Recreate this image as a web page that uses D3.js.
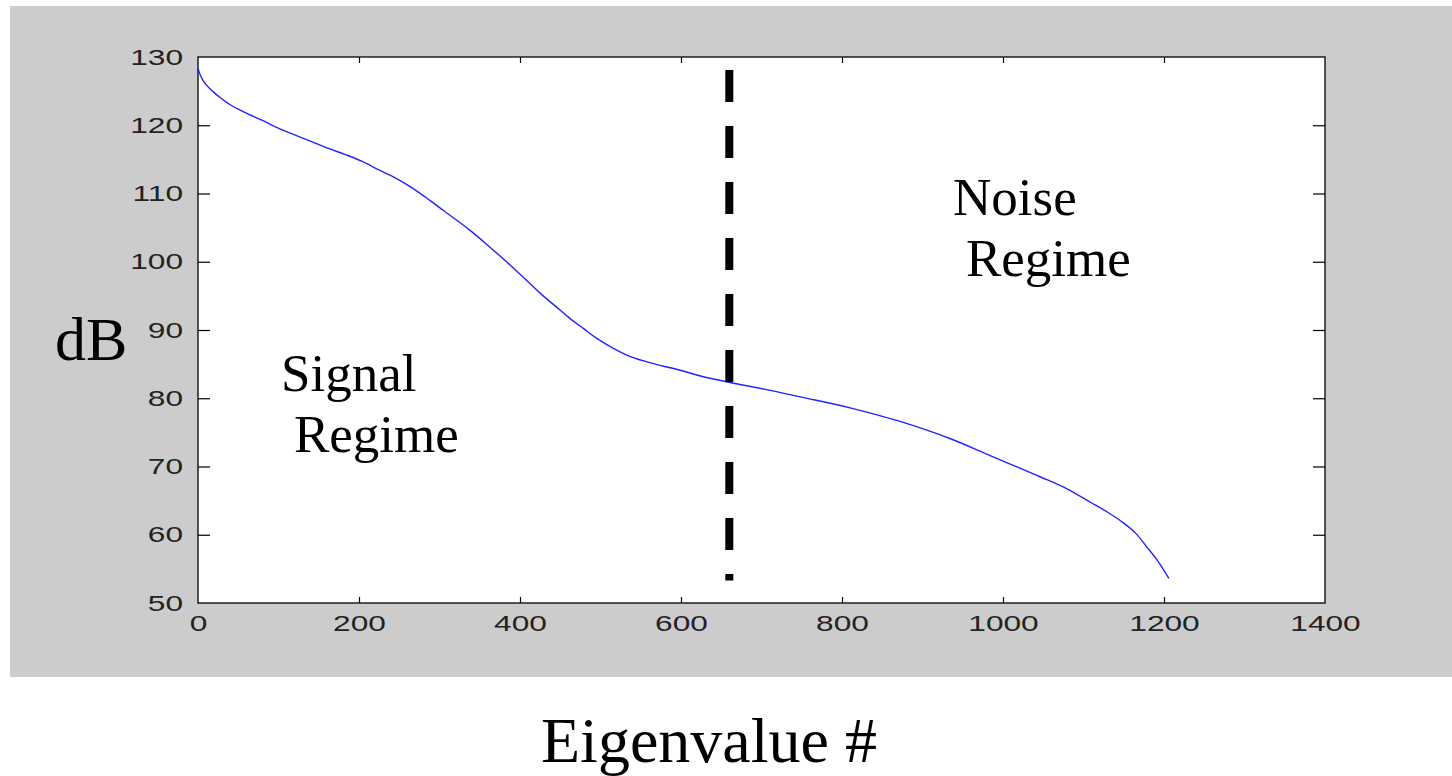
<!DOCTYPE html>
<html>
<head>
<meta charset="utf-8">
<script src="https://cdn.jsdelivr.net/npm/d3@7"></script>
<style>
  html, body { margin: 0; padding: 0; background: #ffffff; }
  svg { display: block; }
</style>
</head>
<body>
<svg id="chart" width="1452" height="776"></svg>
<script>
// Sorted eigenvalue spectrum (index vs. power in dB)
const eigIndex = [0, 3, 9, 18, 27, 40, 58, 80, 99, 120, 141, 162, 183, 204, 224, 245, 265, 288, 305,
  338, 363, 388, 407, 425, 444, 462, 479, 495, 516, 537, 568, 599, 623, 661, 705, 748, 810, 872,
  934, 984, 1046, 1080, 1108, 1130, 1150, 1165, 1178, 1192, 1206];
const eigDb = [128.4, 127.3, 126.1, 125.0, 124.1, 123.0, 121.9, 120.7, 119.6, 118.6, 117.6, 116.6,
  115.7, 114.7, 113.5, 112.3, 110.9, 109.0, 107.5, 104.6, 102.1, 99.5, 97.4, 95.4, 93.5, 91.7,
  90.2, 88.8, 87.3, 86.1, 85.0, 84.1, 83.3, 82.3, 81.3, 80.2, 78.6, 76.6, 74.1, 71.6, 68.5,
  66.7, 64.8, 63.3, 61.7, 60.2, 58.3, 56.2, 53.6];

// Boundary between signal and noise subspaces
const splitIndex = 660;
const splitSpan = [128.1, 53.3];

const xTicks = [0, 200, 400, 600, 800, 1000, 1200, 1400];
const yTicks = [50, 60, 70, 80, 90, 100, 110, 120, 130];

const svg = d3.select("#chart");

// figure background
svg.append("rect")
  .attr("x", 10).attr("y", 6)
  .attr("width", 1442).attr("height", 671)
  .attr("fill", "#cccccc");

const x = d3.scaleLinear().domain([0, 1400]).range([198, 1325]);
const y = d3.scaleLinear().domain([50, 130]).range([603, 57]);

// axes area
svg.append("rect")
  .attr("x", x(0)).attr("y", y(130))
  .attr("width", x(1400) - x(0)).attr("height", y(50) - y(130))
  .attr("fill", "#ffffff");

// tick labels are drawn wide, as in the original figure
const stretch = 1.44;
function styleAxis(g) {
  g.select(".domain").remove();
  g.selectAll(".tick line").attr("stroke", "#000").attr("stroke-width", 1.2);
  g.selectAll(".tick text")
    .attr("font-family", "'Liberation Sans', Arial, sans-serif")
    .attr("font-size", 22)
    .attr("fill", "#222");
}

// bottom axis with labels
const gx = svg.append("g")
  .attr("transform", `translate(0,${y(50)})`)
  .call(d3.axisBottom(x).tickValues(xTicks).tickFormat(d3.format("d")).tickSizeInner(-6).tickSizeOuter(0));
styleAxis(gx);
gx.selectAll(".tick text")
  .attr("transform", `scale(${stretch},1)`)
  .attr("y", 12).attr("dy", "0.71em");
gx.selectAll(".tick").filter(d => d === 0 || d === 1400).select("line").remove();

// top axis ticks
const gxt = svg.append("g")
  .attr("transform", `translate(0,${y(130)})`)
  .call(d3.axisTop(x).tickValues(xTicks.slice(1, -1)).tickFormat("").tickSizeInner(-6).tickSizeOuter(0));
styleAxis(gxt);

// left axis with labels
const gy = svg.append("g")
  .attr("transform", `translate(${x(0)},0)`)
  .call(d3.axisLeft(y).tickValues(yTicks).tickFormat(d3.format("d")).tickSizeInner(-12).tickSizeOuter(0));
styleAxis(gy);
gy.selectAll(".tick text")
  .attr("transform", `scale(${stretch},1)`)
  .attr("x", -15 / stretch);
gy.selectAll(".tick").filter(d => d === 50 || d === 130).select("line").remove();

// right axis ticks
const gyr = svg.append("g")
  .attr("transform", `translate(${x(1400)},0)`)
  .call(d3.axisRight(y).tickValues(yTicks.slice(1, -1)).tickFormat("").tickSizeInner(-12).tickSizeOuter(0));
styleAxis(gyr);

// axes box
svg.append("rect")
  .attr("x", x(0)).attr("y", y(130))
  .attr("width", x(1400) - x(0)).attr("height", y(50) - y(130))
  .attr("fill", "none").attr("stroke", "#000").attr("stroke-width", 1.3);

// eigenvalue curve
const pts = eigIndex.map((v, i) => [v, eigDb[i]]);
svg.append("path")
  .datum(pts)
  .attr("fill", "none")
  .attr("stroke", "#2222ff")
  .attr("stroke-width", 1.4)
  .attr("d", d3.line().x(d => x(d[0])).y(d => y(d[1])).curve(d3.curveCatmullRom.alpha(0.5)));

// regime divider
svg.append("line")
  .attr("x1", x(splitIndex)).attr("x2", x(splitIndex))
  .attr("y1", y(splitSpan[0])).attr("y2", y(splitSpan[1]))
  .attr("stroke", "#000").attr("stroke-width", 8)
  .attr("stroke-dasharray", "32 24");

// annotations
const serif = "'Liberation Serif', 'Times New Roman', serif";
const notes = [
  { t: "Signal", x: 281, y: 391, s: 53 },
  { t: "Regime", x: 294, y: 452, s: 53 },
  { t: "Noise", x: 953, y: 215, s: 53 },
  { t: "Regime", x: 966, y: 276, s: 53 },
  { t: "dB", x: 55, y: 360, s: 62 },
  { t: "Eigenvalue #", x: 541, y: 762, s: 64 }
];
svg.selectAll("text.note")
  .data(notes)
  .enter().append("text")
  .attr("class", "note")
  .attr("x", d => d.x).attr("y", d => d.y)
  .attr("font-family", serif)
  .attr("font-size", d => d.s)
  .attr("fill", "#000")
  .text(d => d.t);
</script>
</body>
</html>
